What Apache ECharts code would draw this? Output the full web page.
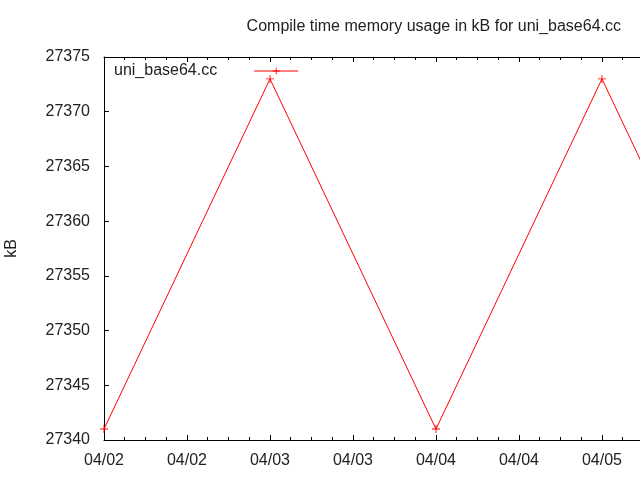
<!DOCTYPE html>
<html>
<head>
<meta charset="utf-8">
<script src="https://cdn.jsdelivr.net/npm/echarts@6/dist/echarts.min.js"></script>
<style>html,body{margin:0;padding:0;background:#fff}#c{width:640px;height:480px}</style>
</head>
<body>
<div id="c"></div>
<script>
// hours since 04/02 00:00
const hours = [0, 24, 48, 72, 96];
const memoryKB = [27341, 27373, 27341, 27373, 27341];
const seriesName = 'uni_base64.cc';
const titleText = 'Compile time memory usage in kB for uni_base64.cc';
const yTicks = [27340, 27345, 27350, 27355, 27360, 27365, 27370, 27375];

const FONT = 'Liberation Sans';
const FS = 16;
const cross = 'path://M4,0H5V4H9V5H5V9H4V5H0V4H4Z';
function dateLabel(h) {
  if (Math.abs(h % 12) > 1e-6) return '';
  const d = 2 + Math.floor(h / 24);
  return '04/' + (d < 10 ? '0' + d : d);
}
const chart = echarts.init(document.getElementById('c'), null, {renderer: 'canvas'});
const xCommon = {
  type: 'value', min: 0, max: 77.5, interval: 12,
  axisLine: {lineStyle: {color: '#000', width: 1}},
  axisTick: {inside: true, length: 5, lineStyle: {color: '#000'}},
  minorTick: {show: true, splitNumber: 4, length: 3, lineStyle: {color: '#000'}},
  splitLine: {show: false}
};
chart.setOption({
  animation: false,
  title: {
    text: titleText, right: 14, top: 14,
    textStyle: {fontFamily: FONT, fontSize: FS, fontWeight: 'normal', color: '#222'}
  },
  legend: {
    left: 109, top: 58, align: 'right', itemWidth: 44, itemHeight: 9,
    lineStyle: {width: 1, color: '#f00'},
    formatter: n => '{a|' + n + '}',
    textStyle: {fontFamily: FONT, fontSize: FS, color: '#222', rich: {a: {padding: [0, 32, 0, 0], fontFamily: FONT, fontSize: FS, color: '#222'}}},
    data: [seriesName]
  },
  grid: {left: 104, right: 0, top: 57, bottom: 40, containLabel: false, outerBoundsMode: 'none'},
  xAxis: [
    Object.assign({}, xCommon, {
      position: 'bottom',
      axisLabel: {formatter: dateLabel, fontFamily: FONT, fontSize: FS, color: '#222', margin: 13, showMaxLabel: false}
    }),
    Object.assign({}, xCommon, {position: 'top', axisLabel: {show: false}})
  ],
  yAxis: {
    type: 'value', min: yTicks[0], max: yTicks[yTicks.length - 1], interval: 5,
    name: 'kB', nameLocation: 'middle', nameGap: 84, nameRotate: 90,
    nameTextStyle: {fontFamily: FONT, fontSize: FS, color: '#222'},
    axisLine: {show: true, lineStyle: {color: '#000', width: 1}},
    axisTick: {inside: true, length: 5, lineStyle: {color: '#000'}},
    axisLabel: {formatter: v => String(v), fontFamily: FONT, fontSize: FS, color: '#222', margin: 14},
    splitLine: {show: false}
  },
  series: [{
    name: seriesName, type: 'line', xAxisIndex: 0,
    data: hours.map((h, i) => [h, memoryKB[i]]),
    symbol: cross, symbolSize: 8, showAllSymbol: true,
    lineStyle: {color: '#f00', width: 1},
    itemStyle: {color: '#f00'},
    clip: true
  }]
});
</script>
</body>
</html>
